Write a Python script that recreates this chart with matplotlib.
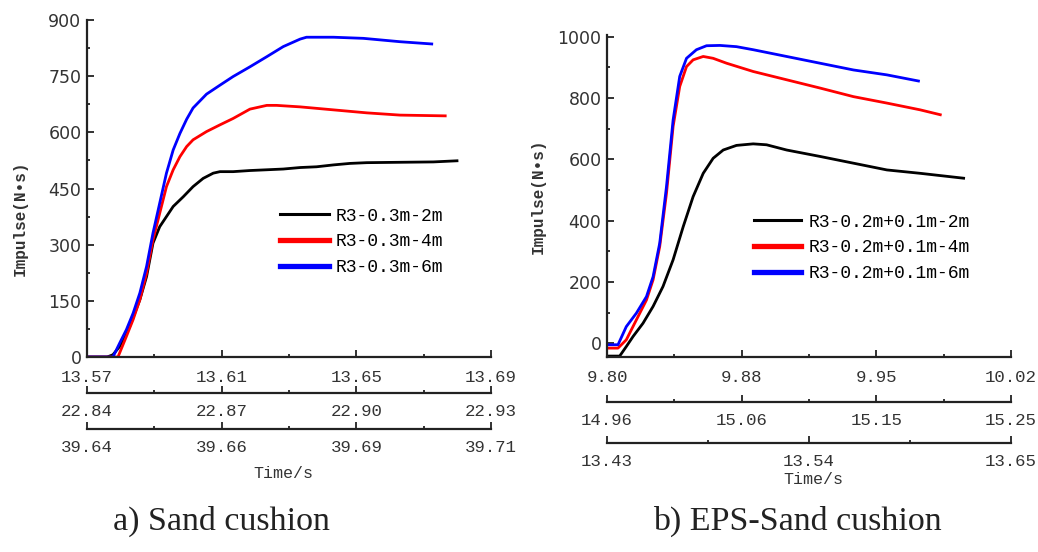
import numpy as np
import matplotlib
matplotlib.use("Agg")
import matplotlib.pyplot as plt
from matplotlib.lines import Line2D

# ---------------- data: panel a (Sand cushion) ----------------
a_t_black = [13.5700, 13.5760, 13.5777, 13.5797, 13.5827, 13.5857, 13.5877, 13.5896, 13.5916,
             13.5936, 13.5956, 13.5986, 13.6015, 13.6045, 13.6075, 13.6095, 13.6134,
             13.6184, 13.6234, 13.6283, 13.6333, 13.6382, 13.6432, 13.6481, 13.6531,
             13.6630, 13.6729, 13.6799]
a_y_black = [0, 0, 6, 28, 82, 153, 215, 304, 348, 375, 402, 428, 455, 477, 491, 495, 495,
             498, 500, 502, 506, 508, 513, 517, 519, 520, 521, 524]

a_t_red = [13.5700, 13.5792, 13.5817, 13.5837, 13.5857, 13.5877, 13.5896, 13.5916, 13.5936,
           13.5956, 13.5976, 13.5996, 13.6015, 13.6055, 13.6095, 13.6134, 13.6184, 13.6234,
           13.6263, 13.6333, 13.6432, 13.6531, 13.6630, 13.6764]
a_y_red = [0, 0, 55, 100, 153, 224, 313, 384, 455, 500, 535, 562, 580, 602, 620, 637, 662,
           672, 672, 668, 660, 652, 646, 644]

a_t_blue = [13.5700, 13.5777, 13.5797, 13.5817, 13.5837, 13.5857, 13.5877, 13.5896, 13.5916,
            13.5936, 13.5956, 13.5976, 13.5996, 13.6015, 13.6055, 13.6095, 13.6134, 13.6184,
            13.6234, 13.6283, 13.6333, 13.6352, 13.6432, 13.6521, 13.6630, 13.6724]
a_y_blue = [0, 0, 37, 73, 117, 171, 242, 331, 411, 491, 553, 597, 635, 665, 702, 726, 749,
            775, 802, 829, 849, 854, 854, 851, 842, 836]

a_labels = ["R3-0.3m-2m", "R3-0.3m-4m", "R3-0.3m-6m"]
a_ticks1 = ["13.57", "13.61", "13.65", "13.69"]
a_ticks2 = ["22.84", "22.87", "22.90", "22.93"]
a_ticks3 = ["39.64", "39.66", "39.69", "39.71"]
a_yticks = [0, 150, 300, 450, 600, 750, 900]

# ---------------- data: panel b (EPS-Sand cushion) ----------------
b_t_black = [9.8000, 9.8069, 9.8105, 9.8142, 9.8196, 9.8251, 9.8305, 9.8360, 9.8415, 9.8469,
             9.8524, 9.8578, 9.8633, 9.8705, 9.8796, 9.8869, 9.8978, 9.9160, 9.9342, 9.9524,
             9.9705, 9.9942]
b_y_black = [-42, -42, -11, 22, 65, 120, 185, 272, 380, 478, 554, 603, 630, 645, 650, 647,
             630, 609, 587, 565, 554, 538]

b_t_red = [9.8000, 9.8060, 9.8105, 9.8160, 9.8215, 9.8251, 9.8287, 9.8324, 9.8360, 9.8396,
           9.8433, 9.8469, 9.8524, 9.8578, 9.8651, 9.8796, 9.8978, 9.9160, 9.9342, 9.9524,
           9.9705, 9.9815]
b_y_red = [-16, -16, 11, 76, 141, 207, 315, 489, 707, 837, 902, 924, 935, 929, 913, 886,
           859, 832, 804, 783, 761, 745]

b_t_blue = [9.8000, 9.8060, 9.8105, 9.8160, 9.8215, 9.8251, 9.8287, 9.8324, 9.8360, 9.8396,
            9.8433, 9.8487, 9.8542, 9.8615, 9.8705, 9.8796, 9.8978, 9.9160, 9.9342, 9.9524,
            9.9696]
b_y_blue = [-5, -5, 54, 98, 152, 217, 326, 511, 728, 870, 929, 957, 970, 971, 967, 957,
            935, 913, 891, 875, 855]

b_labels = ["R3-0.2m+0.1m-2m", "R3-0.2m+0.1m-4m", "R3-0.2m+0.1m-6m"]
b_ticks1 = ["9.80", "9.88", "9.95", "10.02"]
b_ticks2 = ["14.96", "15.06", "15.15", "15.25"]
b_ticks3 = ["13.43", "13.54", "13.65"]
b_yticks = [0, 200, 400, 600, 800, 1000]

captions = ["a) Sand cushion", "b) EPS-Sand cushion"]
colors = ["black", "red", "blue"]

# ---------------- figure ----------------
W, H = 1038, 552
fig = plt.figure(figsize=(W / 100, H / 100), dpi=100)
MONO = "Liberation Mono"
XPAD = 9.5


def px(x, y):
    return x / W, 1 - y / H


def setup(ax, tick1, tick2, tick3, loc2, loc3, ylim, yticks, ymin_step, minor1, minor2, minor3):
    for s in ("top", "right"):
        ax.spines[s].set_visible(False)
    for s in ("left", "bottom"):
        ax.spines[s].set_linewidth(1.6)
        ax.spines[s].set_color("#222222")
    x0 = float(tick1[0]); x1 = float(tick1[-1])
    ax.set_xlim(x0, x1)
    ax.set_ylim(*ylim)
    ax.set_yticks(yticks)
    ax.set_yticks(np.arange(yticks[0] + ymin_step, yticks[-1], ymin_step * 2), minor=True)
    pos1 = np.linspace(x0, x1, len(tick1))
    ax.set_xticks(pos1, tick1)
    ax.set_xticks(np.linspace(x0, x1, minor1), minor=True)
    ax.tick_params(axis="both", which="major", direction="in", length=5, width=1.3, colors="#222222")
    ax.tick_params(axis="both", which="minor", direction="in", length=2.5, width=1.3, colors="#222222")
    ax.tick_params(axis="x", which="major", pad=XPAD, labelsize=12.5, labelcolor="#333333")
    ax.tick_params(axis="y", which="major", pad=4, labelsize=12.5, labelcolor="#333333")
    for lab in ax.get_xticklabels():
        lab.set_family(MONO)
    for lab in ax.get_yticklabels():
        lab.set_family("DejaVu Sans")

    for tl, loc, nminor in ((tick2, loc2, minor2), (tick3, loc3, minor3)):
        lo, hi = float(tl[0]), float(tl[-1])
        fwd = (lambda x, lo=lo, hi=hi: lo + (x - x0) / (x1 - x0) * (hi - lo))
        inv = (lambda v, lo=lo, hi=hi: x0 + (v - lo) / (hi - lo) * (x1 - x0))
        sec = ax.secondary_xaxis(loc, functions=(fwd, inv))
        sec.spines["bottom"].set_linewidth(1.6)
        sec.spines["bottom"].set_color("#222222")
        sec.set_xticks(np.linspace(lo, hi, len(tl)), tl)
        sec.set_xticks(np.linspace(lo, hi, nminor), minor=True)
        sec.tick_params(which="major", direction="in", length=5, width=1.3, colors="#222222",
                        pad=XPAD - 1.5, labelsize=12.5, labelcolor="#333333")
        sec.tick_params(which="minor", direction="in", length=2.5, width=1.3, colors="#222222")
        for lab in sec.get_xticklabels():
            lab.set_family(MONO)


# panel a
axa = fig.add_axes([87 / W, 1 - 357 / H, 404 / W, 337 / H])
axa.plot(a_t_black, a_y_black, color=colors[0], lw=2)
axa.plot(a_t_red, a_y_red, color=colors[1], lw=2)
axa.plot(a_t_blue, a_y_blue, color=colors[2], lw=2)
setup(axa, a_ticks1, a_ticks2, a_ticks3, -0.1068, -0.2136, (0, 900), a_yticks, 75, 7, 7, 7)

# panel b
axb = fig.add_axes([607 / W, 1 - 357 / H, 404 / W, 322 / H])
axb.plot(b_t_black, b_y_black, color=colors[0], lw=2)
axb.plot(b_t_red, b_y_red, color=colors[1], lw=2)
axb.plot(b_t_blue, b_y_blue, color=colors[2], lw=2)
setup(axb, b_ticks1, b_ticks2, b_ticks3, -0.1398, -0.267, (-45, 1005), b_yticks, 100, 7, 7, 5)

# legends
for ax, labels, anchor, hl in ((axa, a_labels, (0.46, 0.465), 2.7),
                               (axb, b_labels, (0.346, 0.468), 2.6)):
    handles = [Line2D([], [], color=colors[0], lw=2.2),
               Line2D([], [], color=colors[1], lw=3.8),
               Line2D([], [], color=colors[2], lw=3.8)]
    ax.legend(handles, labels, loc="upper left", bbox_to_anchor=anchor, frameon=False,
              prop={"family": MONO, "size": 13}, handlelength=hl, handletextpad=0.4,
              labelspacing=0.48, borderaxespad=0)

# axis labels
fig.text(*px(20, 218), "Impulse(N•s)", rotation=90, ha="center", va="center",
         family=MONO, fontsize=11.5, color="#333333", fontweight="bold")
fig.text(*px(538, 196), "Impulse(N•s)", rotation=90, ha="center", va="center",
         family=MONO, fontsize=11.5, color="#333333", fontweight="bold")
fig.text(*px(283, 474), "Time/s", ha="center", va="center", family=MONO, fontsize=12,
         color="#333333")
fig.text(*px(813, 479), "Time/s", ha="center", va="center", family=MONO, fontsize=12,
         color="#333333")

# captions
fig.text(*px(221, 521), captions[0], ha="center", va="center", family="Liberation Serif",
         fontsize=24.5, color="#222222")
fig.text(*px(797, 521), captions[1], ha="center", va="center", family="Liberation Serif",
         fontsize=24.5, color="#222222")

fig.savefig("out.png", dpi=100)
